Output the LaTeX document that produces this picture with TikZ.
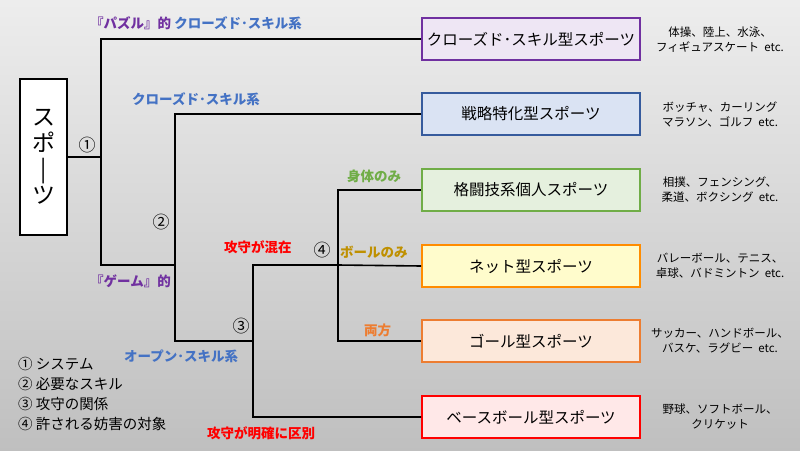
\documentclass[tikz,border=0pt]{standalone}
\usepackage{fontspec}
\setmainfont{Noto Sans CJK JP}
\usetikzlibrary{positioning}
\definecolor{puz}{HTML}{7030A0}
\definecolor{skl}{HTML}{4472C4}
\definecolor{bodyc}{HTML}{70AD47}
\definecolor{ballc}{HTML}{BF9000}
\definecolor{bothc}{HTML}{ED7D31}
\tikzset{
  sport/.style={draw=#1, line width=1.8pt, minimum width=218pt, minimum height=42pt, font=\fontsize{15.5}{15}\selectfont, inner sep=0pt},
  note/.style={font=\fontsize{11.5}{15}\selectfont, align=center},
  lab/.style={font=\bfseries\fontsize{13.5}{14}\selectfont, text=#1, inner sep=0pt},
  num/.style={font=\fontsize{17}{17}\selectfont, inner sep=0pt},
  tree/.style={line width=1.6pt}
}
\begin{document}
\begin{tikzpicture}[x=1pt,y=-1pt]
    % background
    \shade[top color=black!7, bottom color=black!25] (0,0) rectangle (800,450);
    \useasboundingbox (0,0) rectangle (800,450);

    % root
    \node[draw, line width=1.6pt, fill=white, minimum width=47pt, minimum height=156pt, inner sep=0pt] (root) at (43.5,157) {};
    \node[align=center, font=\fontsize{23}{26}\selectfont] at (root) {ス\\ポ\\|\\ツ};

    % sports
    \node[sport=puz, fill=puz!12] (closed) at (531,39) {クローズド･スキル型スポーツ};
    \node[sport=skl!80!black, fill=skl!20] (tactic) at (531,114) {戦略特化型スポーツ};
    \node[sport=bodyc, fill=bodyc!18] (fight) at (531,190) {格闘技系個人スポーツ};
    \node[sport={orange!90!yellow}, fill=yellow!20] (net) at (531,266) {ネット型スポーツ};
    \node[sport=bothc, fill=bothc!18] (goal) at (531,341) {ゴール型スポーツ};
    \node[sport=red, fill=red!9] (base) at (531,417) {ベースボール型スポーツ};

    % examples
    \node[note] at (720,40) {体操、陸上、水泳、\\フィギュアスケート\ \ etc.};
    \node[note] at (720,114) {ボッチャ、カーリング\\マラソン、ゴルフ\ \ etc.};
    \node[note] at (720,190) {相撲、フェンシング、\\柔道、ボクシング\ \ etc.};
    \node[note] at (720,266) {バレーボール、テニス、\\卓球、バドミントン\ \ etc.};
    \node[note] at (720,341) {サッカー、ハンドボール、\\バスケ、ラグビー\ \ etc.};
    \node[note] at (720,417) {野球、ソフトボール、\\クリケット};

    % junctions
    \coordinate (j1) at (101,157);
    \coordinate (j2) at (175,265);
    \coordinate (j3) at (253,341);
    \coordinate (j4) at (338,265);

    % tree
    \draw[tree] (root.east) -- (j1);
    \draw[tree] (closed.west) -| (j1) |- (j2);
    \draw[tree] (tactic.west) -| (j2) |- (j3);
    \draw[tree] (net.west) -- (j4) -| (j3) |- (base.west);
    \draw[tree] (fight.west) -| (j4) |- (goal.west);

    % labels
    \node[lab=puz, anchor=west] at (90,23) {『パズル』的 \textcolor{skl}{クローズド･スキル系}};
    \node[lab=skl, anchor=west] at (132,99) {クローズド･スキル系};
    \node[lab=puz, anchor=west] at (90,281) {『ゲーム』的};
    \node[lab=skl, anchor=west] at (124,356) {オープン･スキル系};
    \node[lab=red, anchor=west] at (224,247) {攻守が混在};
    \node[lab=red, anchor=west] at (207,433) {攻守が明確に区別};
    \node[lab=bodyc, anchor=west] at (347,176) {身体のみ};
    \node[lab=ballc, anchor=west] at (340,252) {ボールのみ};
    \node[lab=bothc, anchor=west] at (364,330) {両方};
    \node[num] at (87,145) {①};
    \node[num] at (161,222) {②};
    \node[num] at (241,326) {③};
    \node[num] at (322,250) {④};

    % legend
    \node[anchor=north west, align=left, inner sep=0pt, font=\fontsize{14.5}{20}\selectfont] (legend) at (18,357)
        {①\ システム\\②\ 必要なスキル\\③\ 攻守の関係\\④\ 許される妨害の対象};
\end{tikzpicture}
\end{document}
